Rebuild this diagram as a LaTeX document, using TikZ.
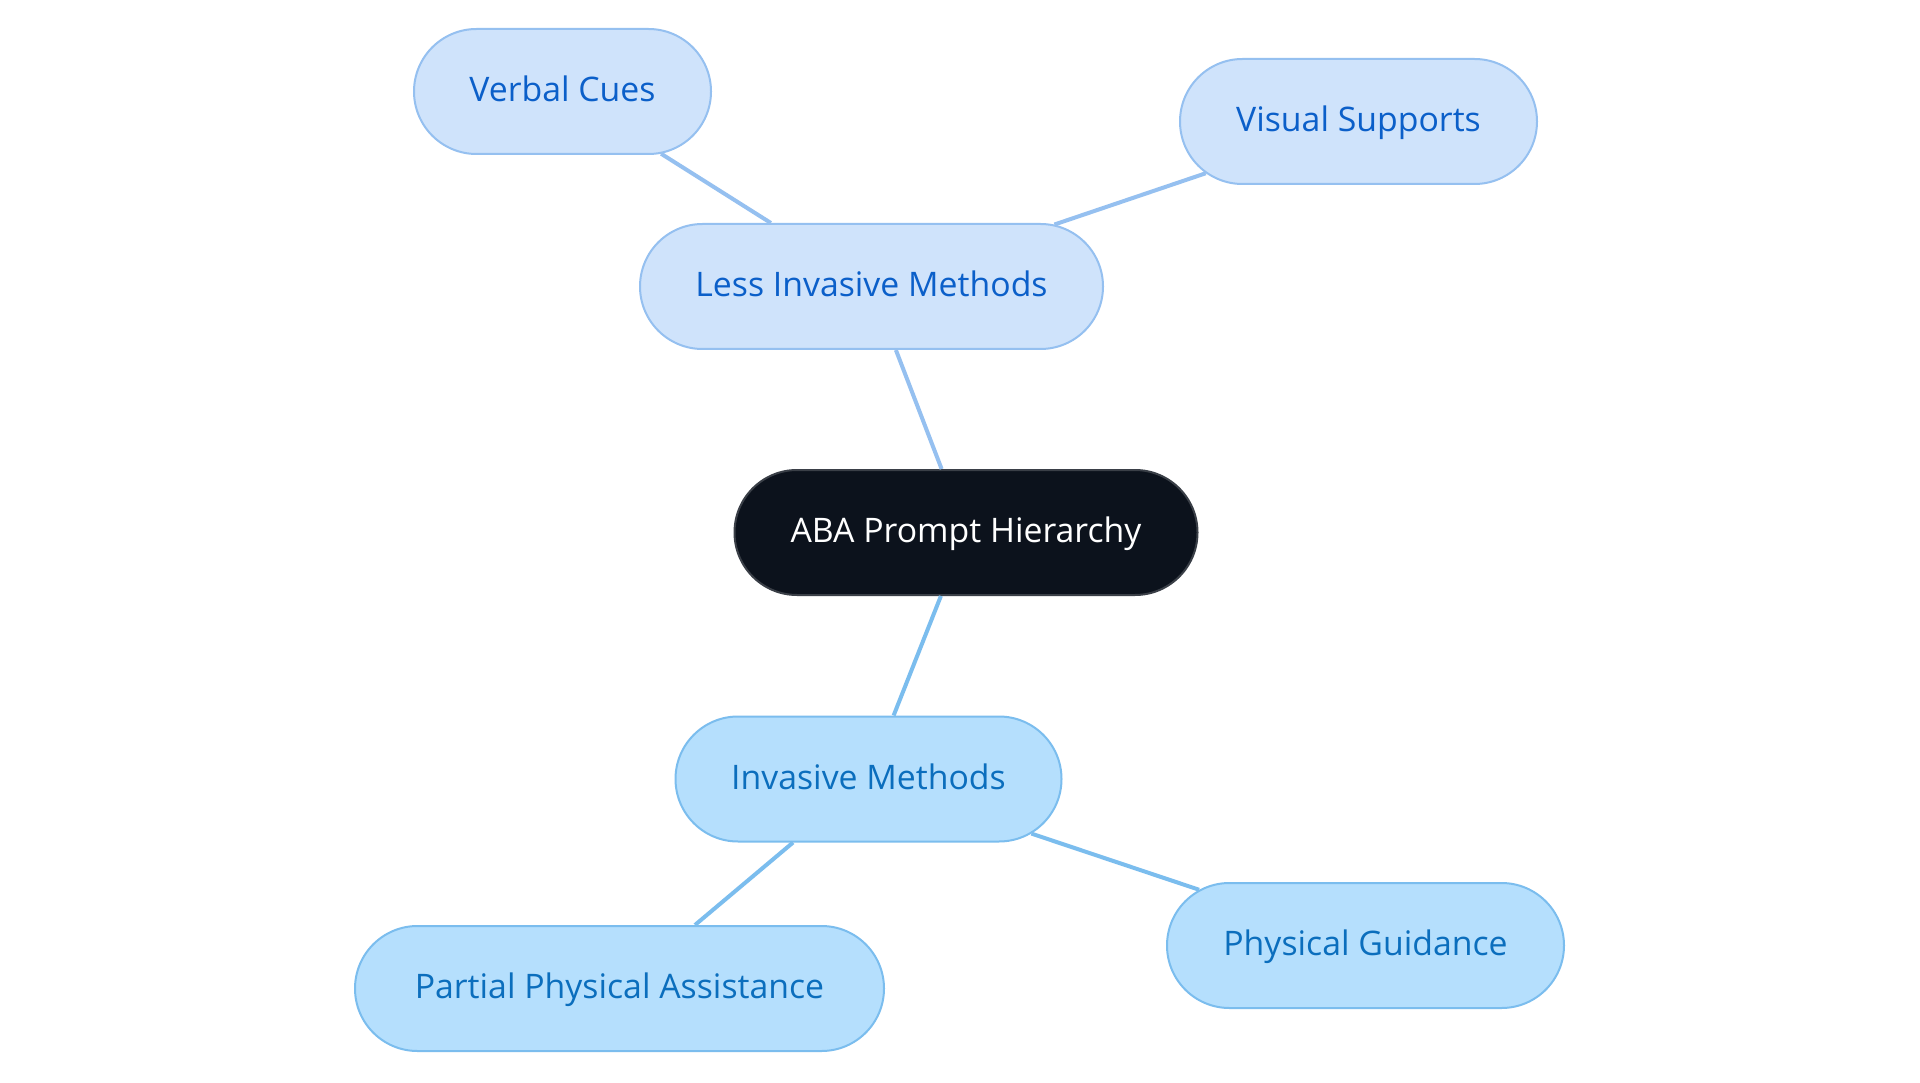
\documentclass[tikz,border=0pt]{standalone}
\usepackage{fontspec}
\setmainfont{Open Sans}
\usetikzlibrary{shapes.misc}
\definecolor{rootfill}{HTML}{0C121C}
\definecolor{rootdraw}{HTML}{3A3F47}
\definecolor{lfill}{HTML}{CFE3FB}
\definecolor{ldraw}{HTML}{95C0F0}
\definecolor{ltext}{HTML}{0B5FC9}
\definecolor{ifill}{HTML}{B5DFFD}
\definecolor{idraw}{HTML}{7BBDEE}
\definecolor{itext}{HTML}{0B6EBD}
\tikzset{
  box/.style={rounded rectangle, minimum height=125pt, inner sep=0pt, line width=2pt, text height=26pt, text depth=6pt, font=\fontsize{33.8}{38}\selectfont},
  rootbox/.style={box, fill=rootfill, draw=rootdraw, text=white},
  lbox/.style={box, fill=lfill, draw=ldraw, text=ltext},
  ibox/.style={box, fill=ifill, draw=idraw, text=itext},
  ledge/.style={draw=ldraw, line width=4pt},
  iedge/.style={draw=idraw, line width=4pt}
}
\begin{document}
\begin{tikzpicture}[x=1pt,y=-1pt]
\useasboundingbox[fill=white] (0,0) rectangle (1920,1083);
\node[rootbox, minimum width=463pt] (root) at (966,532.5) {ABA Prompt Hierarchy};
\node[lbox, minimum width=463pt] (less) at (871.5,286.5) {Less Invasive Methods};
\node[lbox, minimum width=297pt] (verbal) at (562.5,91.5) {Verbal Cues};
\node[lbox, minimum width=357pt] (visual) at (1358.5,121.5) {Visual Supports};
\node[ibox, minimum width=386pt] (inv) at (868.5,779) {Invasive Methods};
\node[ibox, minimum width=529pt] (partial) at (619.5,988.5) {Partial Physical Assistance};
\node[ibox, minimum width=397pt] (guid) at (1365.5,945.5) {Physical Guidance};
\draw[ledge] (root) -- (less);
\draw[ledge] (less) -- (verbal);
\draw[ledge] (less) -- (visual);
\draw[iedge] (root) -- (inv);
\draw[iedge] (inv) -- (partial);
\draw[iedge] (inv) -- (guid);
\end{tikzpicture}
\end{document}
